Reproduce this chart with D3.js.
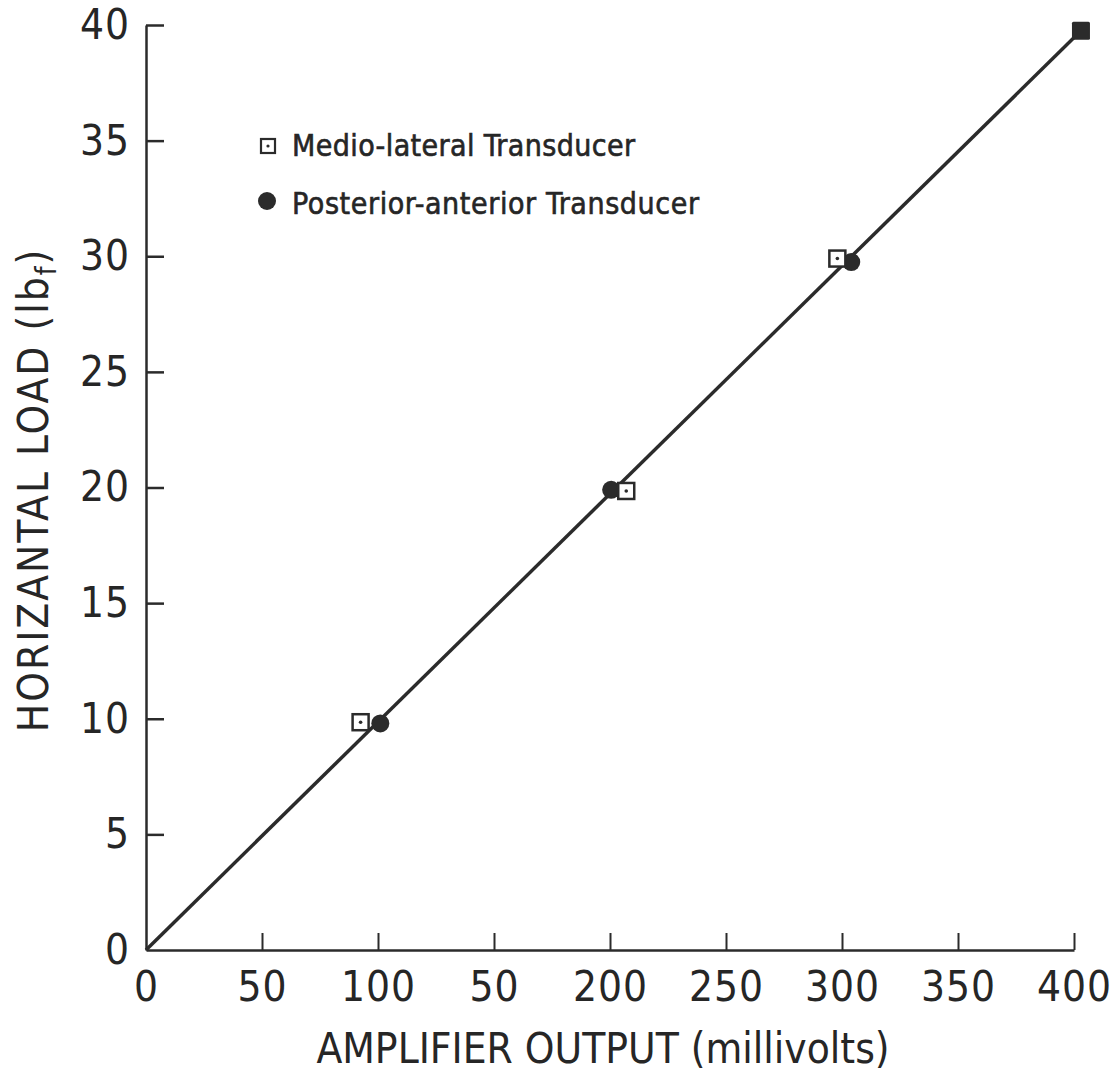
<!DOCTYPE html>
<html>
<head>
<meta charset="utf-8">
<script src="https://cdn.jsdelivr.net/npm/d3@7"></script>
<style>
  body { margin: 0; background: #fff; }
  text { font-family: "Liberation Sans Narrow", "DejaVu Sans Condensed", sans-serif; fill: #262626; }
</style>
</head>
<body>
<svg id="canvas" width="1115" height="1072"></svg>
<script>
// x tick values and labels as printed (the "50" after 100 is in the original)
var xTicks = [0, 50, 100, 150, 200, 250, 300, 350, 400]
var xTickLabels = ['0', '50', '100', '50', '200', '250', '300', '350', '400']
var yTicks = [0, 5, 10, 15, 20, 25, 30, 35, 40]

// medio-lateral transducer (open squares)
var mlX = [92.5, 207, 298]
var mlY = [9.85, 19.85, 29.9]
// posterior-anterior transducer (filled circles)
var paX = [101, 200.5, 304]
var paY = [9.8, 19.9, 29.75]
// both transducers at the same point (drawn as a filled square)
var bothX = [403]
var bothY = [39.75]
// calibration line
var fitX = [0, 403]
var fitY = [0, 39.75]

var ink = '#2b2b2b'

window.onload = function(){
    drawChart()
}

function drawChart(){
    var svg = d3.select('#canvas')

    var x = d3.scaleLinear().domain([0, 400]).range([146, 1074])
    var y = d3.scaleLinear().domain([0, 40]).range([950, 25])

    // x axis, ticks pointing up into the plot
    var xAxis = svg.append('g')
        .attr('transform', 'translate(0,' + y(0) + ')')
        .call(d3.axisBottom(x)
            .tickValues(xTicks)
            .tickFormat((d, i) => xTickLabels[i])
            .tickSizeInner(-17)
            .tickSizeOuter(0)
            .tickPadding(21))
    xAxis.select('.domain').attr('stroke', ink).attr('stroke-width', 2.5)
    xAxis.selectAll('.tick line').attr('stroke', ink).attr('stroke-width', 2)
    xAxis.selectAll('.tick text')
        .attr('fill', ink)
        .style('font-size', '42px')
        .style('letter-spacing', '1px')
        .attr('dy', '0.71em')
    xAxis.selectAll('.tick').filter(d => d == 0).select('line').remove()

    // y axis, ticks pointing right into the plot
    var yAxis = svg.append('g')
        .attr('transform', 'translate(' + x(0) + ',0)')
        .call(d3.axisLeft(y)
            .tickValues(yTicks)
            .tickSizeInner(-18)
            .tickSizeOuter(0)
            .tickPadding(16))
    yAxis.select('.domain').attr('stroke', ink).attr('stroke-width', 2.5)
    yAxis.selectAll('.tick line').attr('stroke', ink).attr('stroke-width', 2.5)
    yAxis.selectAll('.tick text')
        .attr('fill', ink)
        .style('font-size', '42px')
        .style('letter-spacing', '1px')
    yAxis.selectAll('.tick').filter(d => d == 0).select('line').remove()

    // calibration line
    var line = d3.line().x(d => x(d[0])).y(d => y(d[1]))
    svg.append('path')
        .datum(d3.zip(fitX, fitY))
        .attr('d', line)
        .attr('fill', 'none')
        .attr('stroke', ink)
        .attr('stroke-width', 3.5)

    // posterior-anterior points
    svg.selectAll('circle.pa')
        .data(d3.zip(paX, paY))
        .join('circle')
        .attr('class', 'pa')
        .attr('cx', d => x(d[0]))
        .attr('cy', d => y(d[1]))
        .attr('r', 9)
        .attr('fill', ink)

    // medio-lateral points
    var sq = 16
    var ml = svg.selectAll('g.ml')
        .data(d3.zip(mlX, mlY))
        .join('g')
        .attr('class', 'ml')
        .attr('transform', d => 'translate(' + x(d[0]) + ',' + y(d[1]) + ')')
    ml.append('rect')
        .attr('x', -sq / 2).attr('y', -sq / 2)
        .attr('width', sq).attr('height', sq)
        .attr('fill', '#fff')
        .attr('stroke', ink)
        .attr('stroke-width', 2.5)
    ml.append('circle').attr('r', 1.8).attr('fill', ink)

    // coincident point
    svg.selectAll('rect.both')
        .data(d3.zip(bothX, bothY))
        .join('rect')
        .attr('class', 'both')
        .attr('x', d => x(d[0]) - 9)
        .attr('y', d => y(d[1]) - 9)
        .attr('width', 18).attr('height', 18)
        .attr('rx', 1.5)
        .attr('fill', ink)

    // legend
    var legend = svg.append('g').attr('transform', 'translate(268,0)')
    legend.append('rect')
        .attr('x', -7).attr('y', 139)
        .attr('width', 14).attr('height', 14)
        .attr('fill', '#fff').attr('stroke', ink).attr('stroke-width', 2.2)
    legend.append('circle').attr('cx', 0).attr('cy', 146).attr('r', 1.6).attr('fill', ink)
    legend.append('text')
        .attr('x', 24).attr('y', 156)
        .style('font-size', '30px')
        .style('letter-spacing', '0.4px')
        .style('stroke', '#262626').style('stroke-width', 0.6)
        .text('Medio-lateral Transducer')
    legend.append('circle').attr('cx', -1).attr('cy', 201).attr('r', 9).attr('fill', ink)
    legend.append('text')
        .attr('x', 24).attr('y', 214)
        .style('font-size', '30px')
        .style('letter-spacing', '0.6px')
        .style('stroke', '#262626').style('stroke-width', 0.6)
        .text('Posterior-anterior Transducer')

    // axis titles
    svg.append('text')
        .attr('x', 603).attr('y', 1063)
        .attr('text-anchor', 'middle')
        .style('font-size', '42px')
        .text('AMPLIFIER OUTPUT (millivolts)')

    var yTitle = svg.append('text')
        .attr('transform', 'translate(48,490) rotate(-90)')
        .attr('text-anchor', 'middle')
        .style('font-size', '42px')
        .style('letter-spacing', '2px')
    yTitle.append('tspan').text('HORIZANTAL LOAD (lb')
    yTitle.append('tspan').attr('dy', 8).style('font-size', '28px').text('f')
    yTitle.append('tspan').attr('dy', -8).text(')')
}
</script>
</body>
</html>
